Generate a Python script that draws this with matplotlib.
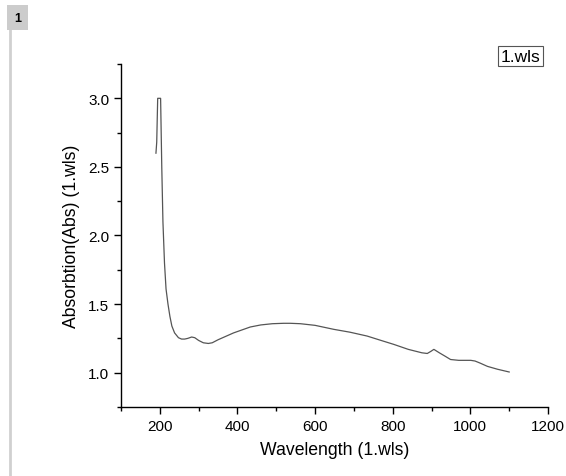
import numpy as np
import matplotlib.pyplot as plt
from matplotlib.ticker import MultipleLocator

plt.rcParams['font.family'] = ['Liberation Sans', 'DejaVu Sans']

# spectrum
wavelength = [190, 192, 194.5, 198, 202, 205, 208, 212, 216, 221, 226, 231, 238,
              248, 256, 264, 272, 282, 290, 300, 312, 325, 335, 350, 370, 390,
              410, 433, 460, 490, 519, 536, 562, 600, 648, 690, 734, 770,
              803, 840, 875, 889, 898, 906, 920, 935, 949, 970, 1001, 1012,
              1025, 1044, 1070, 1100]
absorb = [2.60, 2.68, 3.00, 3.00, 3.00, 2.50, 2.10, 1.80, 1.61, 1.50, 1.41, 1.34,
          1.29, 1.255, 1.245, 1.245, 1.25, 1.26, 1.255, 1.235, 1.218, 1.213,
          1.218, 1.24, 1.265, 1.29, 1.31, 1.333, 1.348, 1.357, 1.36, 1.36,
          1.357, 1.345, 1.316, 1.295, 1.267, 1.235, 1.206, 1.17, 1.145, 1.14,
          1.155, 1.17, 1.145, 1.12, 1.096, 1.09, 1.09, 1.085, 1.07, 1.046,
          1.025, 1.005]

x_label = "Wavelength (1.wls)"
y_label = "Absorbtion(Abs) (1.wls)"
legend_text = "1.wls"

fig = plt.figure(figsize=(5.66, 4.77), dpi=100)
ax = fig.add_axes([0.2138, 0.1447, 0.7544, 0.719])

ax.plot(wavelength, absorb, color='#555555', lw=0.9)

ax.set_xlim(100, 1200)
ax.set_ylim(0.75, 3.25)
ax.xaxis.set_major_locator(MultipleLocator(200))
ax.xaxis.set_minor_locator(MultipleLocator(100))
ax.yaxis.set_major_locator(MultipleLocator(0.5))
ax.yaxis.set_minor_locator(MultipleLocator(0.25))
ax.yaxis.set_major_formatter(plt.FormatStrFormatter('%.1f'))

ax.spines[['right', 'top']].set_visible(False)
for s in ['left', 'bottom']:
    ax.spines[s].set_linewidth(1.0)
ax.tick_params(which='major', direction='out', length=5, width=1, labelsize=11, colors='black')
ax.tick_params(which='minor', direction='out', length=3, width=1)

ax.set_xlabel(x_label, fontsize=12.7, labelpad=6)
ax.set_ylabel(y_label, fontsize=12.7, labelpad=6)

# legend-like label box
fig.text(0.9195, 0.8797, legend_text, fontsize=12.5, ha='center', va='center',
         bbox=dict(boxstyle='square,pad=0.15', fc='white', ec='#555555', lw=0.8))

# page marker on the left
fig.add_artist(plt.Line2D([9.5 / 566, 9.5 / 566], [0, 1 - 10 / 477],
                          transform=fig.transFigure, color='#d0d0d0', lw=2))
fig.text(17.5 / 566, 1 - 18.5 / 477, "1", fontsize=9, fontweight='bold',
         ha='center', va='center',
         bbox=dict(boxstyle='square,pad=0.55', fc='#cccccc', ec='none'))

fig.savefig('out.png', dpi=100)
